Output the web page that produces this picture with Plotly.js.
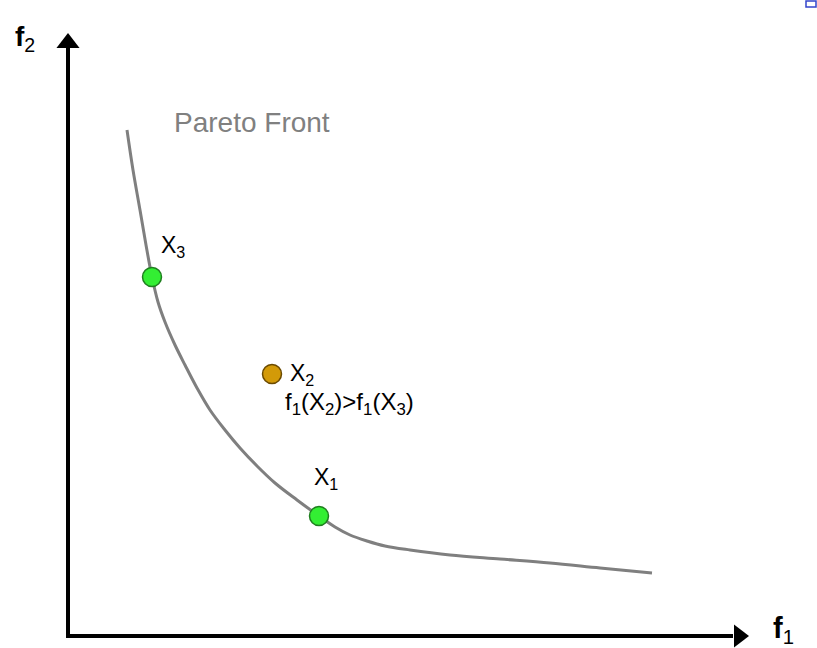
<!DOCTYPE html>
<html>
<head>
<meta charset="utf-8">
<script src="https://cdn.plot.ly/plotly-3.0.1.min.js"></script>
<style>
  html, body { margin: 0; padding: 0; background: #fff; }
  #chart { width: 817px; height: 648px; }
</style>
</head>
<body>
<div id="chart"></div>
<script>
// Pareto front curve (f1, f2) in drawing units (y grows downward)
const frontF1 = [127, 133, 140, 146, 152, 158, 165, 175, 185, 197, 210, 225, 240, 257, 275, 297, 319, 335, 350, 367, 385, 410, 450, 500, 550, 600, 652];
const frontF2 = [130, 170, 210, 245, 277, 302, 322, 345, 365, 388, 410, 430, 448, 466, 483, 500, 516, 527, 535, 541, 546, 550, 555, 559, 563, 568, 573];

// Solutions on and off the front
const solNames = ['X<sub>1</sub>', 'X<sub>3</sub>'];
const solF1 = [319, 152];
const solF2 = [516, 277];
const domName = 'X<sub>2</sub>';
const domF1 = [272];
const domF2 = [374];
const domNote = 'f<sub>1</sub>(X<sub>2</sub>)>f<sub>1</sub>(X<sub>3</sub>)';

// Coordinate axes (origin, tips)
const axisOrigin = [68, 636];
const axisTipF1 = [748, 636];
const axisTipF2 = [68, 33];

const font = 'Liberation Sans, Arial, sans-serif';

const traces = [
  { // f2 axis line
    x: [axisOrigin[0], axisTipF2[0]], y: [axisOrigin[1], axisTipF2[1] + 15],
    mode: 'lines', line: { color: '#000', width: 4 }, hoverinfo: 'skip'
  },
  { // f1 axis line
    x: [axisOrigin[0] - 2, axisTipF1[0] - 15], y: [axisOrigin[1], axisTipF1[1]],
    mode: 'lines', line: { color: '#000', width: 4 }, hoverinfo: 'skip'
  },
  { // arrow heads
    x: [axisTipF2[0], axisTipF1[0] - 9], y: [axisTipF2[1] + 10, axisTipF1[1]],
    mode: 'markers',
    marker: { symbol: ['triangle-up', 'triangle-right'], size: 20, color: '#000', line: { width: 0 } },
    hoverinfo: 'skip'
  },
  { // Pareto front
    x: frontF1, y: frontF2, mode: 'lines',
    line: { color: '#7f7f7f', width: 3, shape: 'spline', smoothing: 1 },
    hoverinfo: 'skip'
  },
  { // non-dominated solutions
    x: solF1, y: solF2, mode: 'markers',
    marker: { size: 19, color: '#33ee33', line: { color: '#1f7f1f', width: 1.5 } },
    hoverinfo: 'skip'
  },
  { // dominated solution
    x: domF1, y: domF2, mode: 'markers',
    marker: { size: 19, color: '#d39a08', line: { color: '#6b4a00', width: 1.5 } },
    hoverinfo: 'skip'
  }
];

const ann = (x, y, text, size, color, xanchor) => ({
  x, y, text, showarrow: false, xanchor: xanchor || 'center', yanchor: 'middle',
  font: { family: font, size, color: color || '#000' }
});

const layout = {
  width: 817, height: 648,
  margin: { l: 0, r: 0, t: 0, b: 0 },
  paper_bgcolor: '#fff', plot_bgcolor: '#fff',
  showlegend: false,
  xaxis: { range: [0, 817], visible: false, fixedrange: true },
  yaxis: { range: [648, 0], visible: false, fixedrange: true },
  annotations: [
    ann(252, 122, 'Pareto Front', 28, '#808080'),
    ann(solF1[1] + 7, 246, solNames[1], 23, '#000', 'left'),
    ann(solF1[0] - 7, 478, solNames[0], 23, '#000', 'left'),
    ann(domF1[0] + 16, domF2[0], domName, 23, '#000', 'left'),
    ann(domF1[0] + 11, 403, domNote, 24, '#000', 'left'),
    ann(13, 38, '<b>f</b><sub>2</sub>', 28, '#000', 'left'),
    ann(771, 630, '<b>f</b><sub>1</sub>', 29, '#000', 'left')
  ],
  shapes: [
    { type: 'rect', x0: 806, x1: 816, y0: 1, y1: 7, line: { color: '#3344cc', width: 1.5 } }
  ]
};

Plotly.newPlot('chart', traces, layout, { displayModeBar: false, staticPlot: true });
</script>
</body>
</html>
